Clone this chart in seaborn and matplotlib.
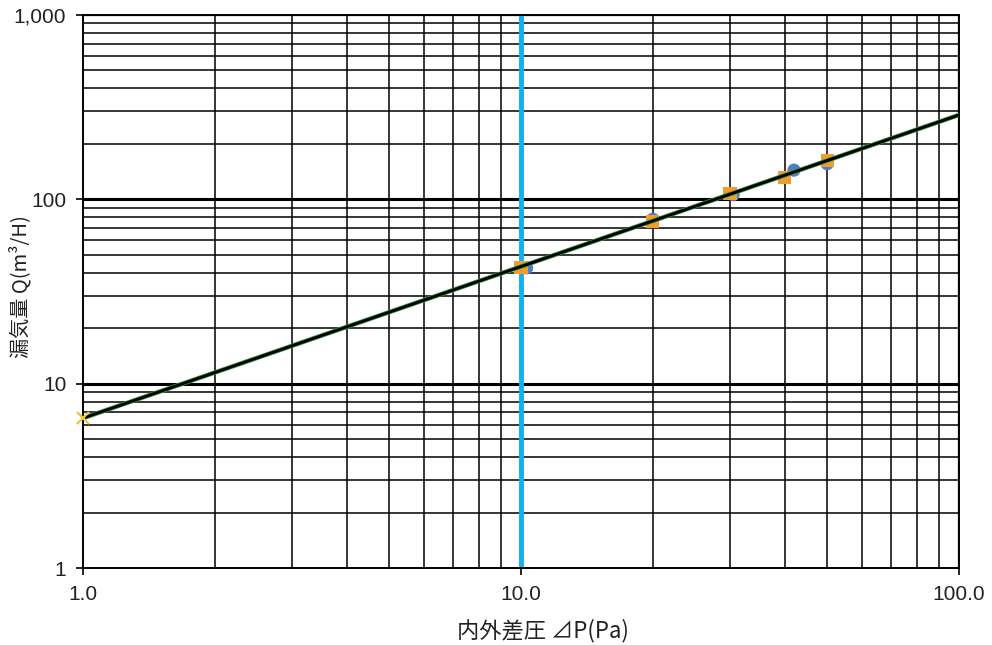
import numpy as np
import pandas as pd
import matplotlib
matplotlib.use("Agg")
import matplotlib.pyplot as plt
import seaborn as sns
from matplotlib.ticker import FixedLocator, NullFormatter

blue_dp = [10.3, 20, 30.5, 42, 50]
blue_q = [42.5, 78, 106, 144, 156]
orange_dp = [10, 20, 30, 40, 50]
orange_q = [42.5, 75.5, 108, 132, 163]

# trend line end points and its value at dP=1
trend_dp = [1, 100]
trend_q = [6.5, 287]
x_mark_dp = [1]
x_mark_q = [6.5]

ref_dp = 10

x_ticks = [1, 10, 100]
x_labels = ["1.0", "10.0", "100.0"]
y_ticks = [1, 10, 100, 1000]
y_labels = ["1", "10", "100", "1,000"]

sns.set_theme(style="white")
plt.rcParams["font.family"] = ["Liberation Sans", "Noto Sans CJK JP", "DejaVu Sans"]

fig = plt.figure(figsize=(9.92, 6.45), dpi=100)
ax = fig.add_axes([83 / 992, 1 - 568 / 645, (959 - 83) / 992, (568 - 15) / 645])
ax.set_xscale("log")
ax.set_yscale("log")
ax.set_xlim(1, 100)
ax.set_ylim(1, 1000)

# grid: minor lines at 2..9 of every decade, majors a bit heavier
minor = [m * 10 ** d for d in range(0, 3) for m in range(2, 10)]
for v in minor:
    if v < 100:
        ax.axvline(v, color="black", lw=1.1, zorder=1)
    if v < 1000:
        ax.axhline(v, color="black", lw=1.1, zorder=1)
for v in [10, 100]:
    ax.axvline(v, color="black", lw=1.6, zorder=1)
    ax.axhline(v, color="black", lw=2.2, zorder=1)
ax.axhline(1000, color="black", lw=1.6, zorder=1)

ax.axvline(ref_dp, color="#13B0EA", lw=3.5, zorder=2)

df_b = pd.DataFrame({"dp": blue_dp, "q": blue_q})
df_o = pd.DataFrame({"dp": orange_dp, "q": orange_q})
sns.scatterplot(data=df_b, x="dp", y="q", ax=ax, color="#4F7FC0", marker="o",
                s=90, edgecolor="none", zorder=3)
sns.scatterplot(data=df_o, x="dp", y="q", ax=ax, color="#F39B2C", marker="s",
                s=90, edgecolor="none", zorder=4)

ax.plot(trend_dp, trend_q, color="#2E8B3E", lw=3.2, zorder=5)
ax.plot(trend_dp, trend_q, color="black", lw=2.0, zorder=6)
ax.plot(x_mark_dp, x_mark_q, marker="x", color="#E8C83A", ms=8, mew=1.6,
        ls="none", zorder=7, clip_on=False)

ax.xaxis.set_major_locator(FixedLocator(x_ticks))
ax.xaxis.set_minor_locator(FixedLocator([]))
ax.yaxis.set_major_locator(FixedLocator(y_ticks))
ax.yaxis.set_minor_locator(FixedLocator([]))
ax.xaxis.set_minor_formatter(NullFormatter())
ax.yaxis.set_minor_formatter(NullFormatter())
ax.set_xticklabels(x_labels)
ax.set_yticklabels(y_labels)
ax.tick_params(axis="both", which="major", direction="out", length=5, width=1.2,
               color="black", labelsize=15, labelcolor="#222222", pad=7,
               bottom=True, left=True)

for s in ax.spines.values():
    s.set_color("black")
    s.set_linewidth(1.4)

ax.set_xlabel("内外差圧 ⊿P(Pa)", fontsize=16, color="#222222",
              family=["Noto Sans CJK JP", "DejaVu Sans"])
ax.set_ylabel("漏気量 Q(m³/H)", fontsize=14.5, color="#222222",
              family=["Noto Sans CJK JP", "DejaVu Sans"])
ax.xaxis.set_label_coords((543 - 83) / 876, (568 - 619) / 553)
ax.yaxis.set_label_coords((31 - 83) / 876, (568 - 287) / 553)
ax.set_facecolor("white")

fig.savefig("out.png", dpi=100, facecolor="white")
